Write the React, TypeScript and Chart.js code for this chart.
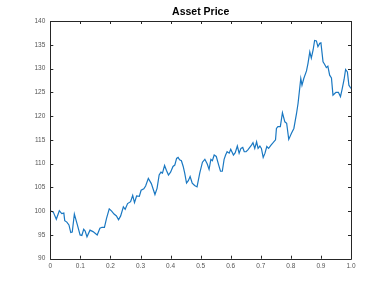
import React, { useEffect, useRef } from "react";
import { Chart, registerables } from "chart.js";

Chart.register(...registerables);

const TITLE = "Asset Price";
const Y_TICKS_MIN = 90;
const Y_TICKS_MAX = 140;
const Y_STEP = 5;
const X_STEP = 0.1;

const times = [
  0, 0.01, 0.02, 0.03, 0.038, 0.045, 0.048, 0.055, 0.062, 0.068, 0.073, 0.08, 0.09, 0.099, 0.105, 0.111, 0.116, 0.122,
  0.132, 0.142, 0.156, 0.165, 0.172, 0.18, 0.187, 0.196, 0.204, 0.212, 0.22, 0.227, 0.234, 0.243, 0.249, 0.257, 0.267,
  0.274, 0.28, 0.287, 0.296, 0.302, 0.311, 0.317, 0.326, 0.336, 0.348, 0.355, 0.362, 0.368, 0.373, 0.38, 0.386, 0.393,
  0.4, 0.408, 0.414, 0.42, 0.425, 0.43, 0.436, 0.442, 0.447, 0.453, 0.459, 0.465, 0.472, 0.48, 0.488, 0.497, 0.506,
  0.514, 0.522, 0.528, 0.534, 0.539, 0.545, 0.552, 0.56, 0.566, 0.572, 0.578, 0.583, 0.588, 0.595, 0.6, 0.609, 0.615,
  0.622, 0.628, 0.634, 0.64, 0.645, 0.651, 0.657, 0.669, 0.674, 0.68, 0.686, 0.691, 0.697, 0.702, 0.708, 0.714, 0.72,
  0.726, 0.734, 0.741, 0.749, 0.752, 0.757, 0.765, 0.772, 0.78, 0.786, 0.793, 0.802, 0.81, 0.819, 0.824, 0.833, 0.837,
  0.843, 0.852, 0.857, 0.863, 0.868, 0.874, 0.879, 0.885, 0.89, 0.896, 0.9, 0.907, 0.912, 0.918, 0.923, 0.929, 0.935,
  0.94, 0.945, 0.95, 0.958, 0.965, 0.97, 0.977, 0.982, 0.988, 0.993, 1.0,
];

const prices = [
  100.1, 99.8, 98.3, 100.1, 99.5, 99.6, 98.0, 97.7, 97.1, 95.5, 95.6, 99.4, 97.1, 95.0, 94.9, 96.2, 95.8, 94.6,
  96.0, 95.7, 95.0, 96.4, 96.6, 96.6, 98.5, 100.5, 100.0, 99.4, 99.0, 98.2, 99.0, 100.9, 100.4, 101.6, 102.0,
  103.3, 101.8, 103.2, 103.1, 104.4, 104.7, 105.3, 106.9, 105.8, 103.5, 104.8, 107.6, 108.2, 108.0, 109.6, 108.6, 107.6,
  108.2, 109.4, 109.7, 111.1, 111.3, 110.8, 110.6, 109.4, 108.0, 105.9, 106.4, 107.3, 105.9, 105.4, 105.1, 108.0, 110.3,
  110.9, 109.9, 108.8, 110.9, 110.6, 111.8, 111.5, 109.7, 108.4, 108.4, 110.9, 111.8, 112.5, 112.2, 113.0, 111.8, 112.3,
  113.7, 112.2, 113.2, 113.4, 112.5, 112.5, 112.9, 113.9, 114.4, 113.2, 114.6, 113.2, 113.7, 113.2, 111.3, 112.2, 113.6,
  113.2, 113.9, 114.4, 115.0, 117.4, 117.8, 117.8, 120.7, 118.8, 118.5, 115.1, 116.4, 117.4, 120.6, 122.7, 127.9, 126.5,
  127.9, 129.5, 131.1, 133.5, 132.2, 133.9, 135.9, 135.8, 134.6, 135.3, 135.4, 131.4, 130.9, 130.2, 130.5, 128.6, 128.0,
  124.4, 124.7, 125.0, 125.0, 124.1, 125.5, 127.7, 129.8, 129.3, 126.5, 125.8,
];

const boxPlugin = {
  id: "matlabBox",
  afterDraw(chart: any) {
    const { ctx, chartArea } = chart;
    const { left, right, top, bottom } = chartArea;
    const xs = chart.scales.x;
    const ys = chart.scales.y;
    const tl = 3;
    ctx.save();
    ctx.strokeStyle = "#262626";
    ctx.lineWidth = 1;
    ctx.beginPath();
    ctx.rect(Math.round(left) + 0.5, Math.round(top) + 0.5, Math.round(right - left), Math.round(bottom - top));
    ctx.stroke();
    ctx.beginPath();
    xs.ticks.forEach((t: any) => {
      const px = Math.round(xs.getPixelForValue(t.value)) + 0.5;
      ctx.moveTo(px, bottom);
      ctx.lineTo(px, bottom - tl);
      ctx.moveTo(px, top);
      ctx.lineTo(px, top + tl);
    });
    ys.ticks.forEach((t: any) => {
      const py = Math.round(ys.getPixelForValue(t.value)) + 0.5;
      ctx.moveTo(left, py);
      ctx.lineTo(left + tl, py);
      ctx.moveTo(right, py);
      ctx.lineTo(right - tl, py);
    });
    ctx.stroke();
    ctx.restore();
  },
};

export default function App() {
  const ref = useRef<HTMLCanvasElement | null>(null);

  useEffect(() => {
    document.body.style.margin = "0";
    document.body.style.background = "#ffffff";
    const canvas = ref.current;
    if (!canvas) return;
    const tickFont = { family: "'Liberation Sans', Arial, sans-serif", size: 6.5 };
    const chart = new Chart(canvas, {
      type: "line",
      data: {
        datasets: [
          {
            label: TITLE,
            data: times.map((t, i) => ({ x: t, y: prices[i] })),
            borderColor: "#1a78c2",
            borderWidth: 1.2,
            pointRadius: 0,
            tension: 0,
            fill: false,
          },
        ],
      },
      options: {
        animation: false,
        responsive: false,
        devicePixelRatio: 1,
        layout: { padding: { left: 8, right: 37, top: 0, bottom: 0 } },
        plugins: {
          legend: { display: false },
          tooltip: { enabled: false },
          title: {
            display: true,
            text: TITLE,
            fullSize: false,
            color: "#000000",
            font: { family: "'Liberation Sans', Arial, sans-serif", size: 10.5, weight: "bold" },
            padding: { top: 6, bottom: 2.4 },
          },
        },
        scales: {
          x: {
            type: "linear",
            min: 0,
            max: 1,
            grid: { display: false, drawTicks: false },
            border: { display: false },
            ticks: { stepSize: X_STEP, color: "#555555", font: tickFont, padding: 4, maxRotation: 0 },
            afterFit: (s: any) => {
              s.height = 32.3;
            },
          },
          y: {
            type: "linear",
            min: Y_TICKS_MIN,
            max: Y_TICKS_MAX,
            grid: { display: false, drawTicks: false },
            border: { display: false },
            ticks: { stepSize: Y_STEP, color: "#555555", font: tickFont, padding: 5 },
            afterFit: (s: any) => {
              s.width = 42.3;
            },
          },
        },
      },
      plugins: [boxPlugin],
    });
    return () => chart.destroy();
  }, []);

  return (
    <div style={{ width: 388, height: 291, background: "#ffffff" }}>
      <canvas ref={ref} width={388} height={291} style={{ display: "block", width: 388, height: 291 }} />
    </div>
  );
}
